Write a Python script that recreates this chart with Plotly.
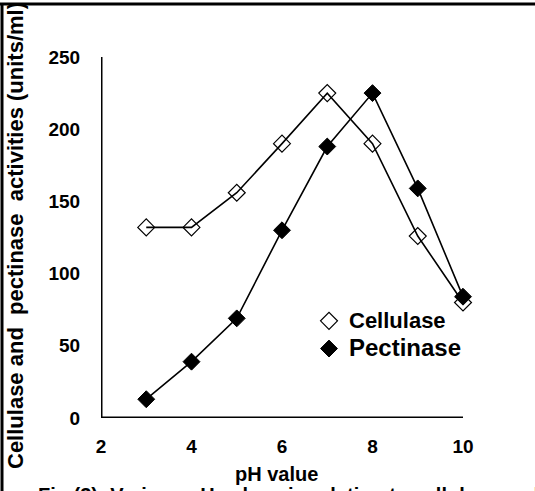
import plotly.graph_objects as go

ph = [3, 4, 5, 6, 7, 8, 9, 10]
cellulase = [132, 132, 156, 190, 225, 190, 126, 80]
pectinase = [13, 39, 69, 130, 188, 225, 159, 84]

x_ticks = [2, 4, 6, 8, 10]
x_minor = [3, 5, 7, 9]
y_ticks = [0, 50, 100, 150, 200, 250]
y_minor = [25, 75, 125, 175, 225]
x_range = [2, 10]
y_range = [0, 250]

FONT = "Liberation Sans, Arial, sans-serif"
W, H = 535, 491
ML, MR, MT, MB = 101, 72, 57, 73
PW, PH = W - ML - MR, H - MT - MB
MAJ, MIN = 11, 6
XU = (x_range[1] - x_range[0]) / PW
YU = (y_range[1] - y_range[0]) / PH


def px(xp):
    return (xp - ML) / PW


def py(yp):
    return (H - MB - yp) / PH


# axis frame (lines + ticks) built from the tick arrays
ax_x, ax_y = [], []
ax_x += [x_range[0], x_range[1], None]
ax_y += [y_range[0], y_range[0], None]
ax_x += [x_range[0], x_range[0], None]
ax_y += [y_range[0], y_range[1], None]
for v in x_ticks:
    ax_x += [v, v, None]
    ax_y += [y_range[0], y_range[0] - MAJ * YU, None]
for v in x_minor:
    ax_x += [v, v, None]
    ax_y += [y_range[0], y_range[0] - MIN * YU, None]
for v in y_ticks:
    ax_x += [x_range[0], x_range[0] - MAJ * XU, None]
    ax_y += [v, v, None]
for v in y_minor:
    ax_x += [x_range[0], x_range[0] - MIN * XU, None]
    ax_y += [v, v, None]

fig = go.Figure()
fig.add_trace(go.Scatter(x=ax_x, y=ax_y, mode="lines", showlegend=False,
                         hoverinfo="skip", connectgaps=False,
                         line=dict(color="black", width=3), cliponaxis=False))
fig.add_trace(go.Scatter(x=ph, y=cellulase, mode="lines", showlegend=False,
                         line=dict(color="black", width=1.6), cliponaxis=False))
fig.add_trace(go.Scatter(x=ph, y=pectinase, mode="lines", showlegend=False,
                         line=dict(color="black", width=1.6), cliponaxis=False))
fig.add_trace(go.Scatter(x=ph, y=cellulase, mode="markers",
                         name="<b><span style='font-size:22px'>Cellulase</span></b>",
                         marker=dict(symbol="diamond-open", size=13, color="black",
                                     line=dict(width=1.2, color="black")),
                         cliponaxis=False))
fig.add_trace(go.Scatter(x=ph, y=pectinase, mode="markers",
                         name="<b><span style='font-size:24px'>Pectinase</span></b>",
                         marker=dict(symbol="diamond", size=13, color="black",
                                     line=dict(width=1, color="black")),
                         cliponaxis=False))

tickfont = dict(family=FONT, size=19, color="black")
fig.update_layout(
    xaxis=dict(range=x_range, tickmode="array", tickvals=x_ticks,
               ticktext=["<b>%d</b>" % v for v in x_ticks],
               showgrid=False, zeroline=False, showline=False,
               ticks="outside", ticklen=MAJ, tickcolor="rgba(0,0,0,0)",
               tickfont=tickfont),
    yaxis=dict(range=y_range, tickmode="array", tickvals=y_ticks,
               ticktext=["<b>%d</b>" % v for v in y_ticks],
               showgrid=False, zeroline=False, showline=False,
               ticks="outside", ticklen=MAJ, tickcolor="rgba(0,0,0,0)",
               ticklabelstandoff=5, tickfont=tickfont),
)

shapes = [
    dict(type="line", xref="paper", yref="paper", x0=px(0), x1=px(W),
         y0=py(4), y1=py(4), line=dict(color="black", width=3)),
    dict(type="line", xref="paper", yref="paper", x0=px(2), x1=px(2),
         y0=py(3), y1=py(H + 5), line=dict(color="black", width=3)),
]

fig.add_annotation(text="<b>Cellulase and  pectinase  activities (units/ml)</b>",
                   xref="paper", yref="paper", x=px(15), y=py(236), textangle=-90,
                   xanchor="center", yanchor="middle",
                   showarrow=False, font=dict(family=FONT, size=22, color="black"))
fig.add_annotation(text="<b>pH value</b>", xref="paper", yref="paper", x=px(276), y=py(474),
                   xanchor="center", yanchor="middle",
                   showarrow=False, font=dict(family=FONT, size=20, color="black"))
fig.add_annotation(text="<b>Fig (3): Various pH values in relation to cellulase and pectinase activities</b>",
                   xref="paper", yref="paper", x=px(36), y=py(482), xanchor="left", yanchor="top",
                   showarrow=False, font=dict(family=FONT, size=20, color="black"))

fig.update_layout(
    shapes=shapes,
    width=W, height=H, margin=dict(l=ML, r=MR, t=MT, b=MB),
    paper_bgcolor="white", plot_bgcolor="white",
    legend=dict(x=px(309), y=py(302), xanchor="left", yanchor="top",
                bgcolor="rgba(0,0,0,0)", tracegroupgap=0,
                font=dict(family=FONT, size=19, color="black")),
)

fig.write_html("out.html")
